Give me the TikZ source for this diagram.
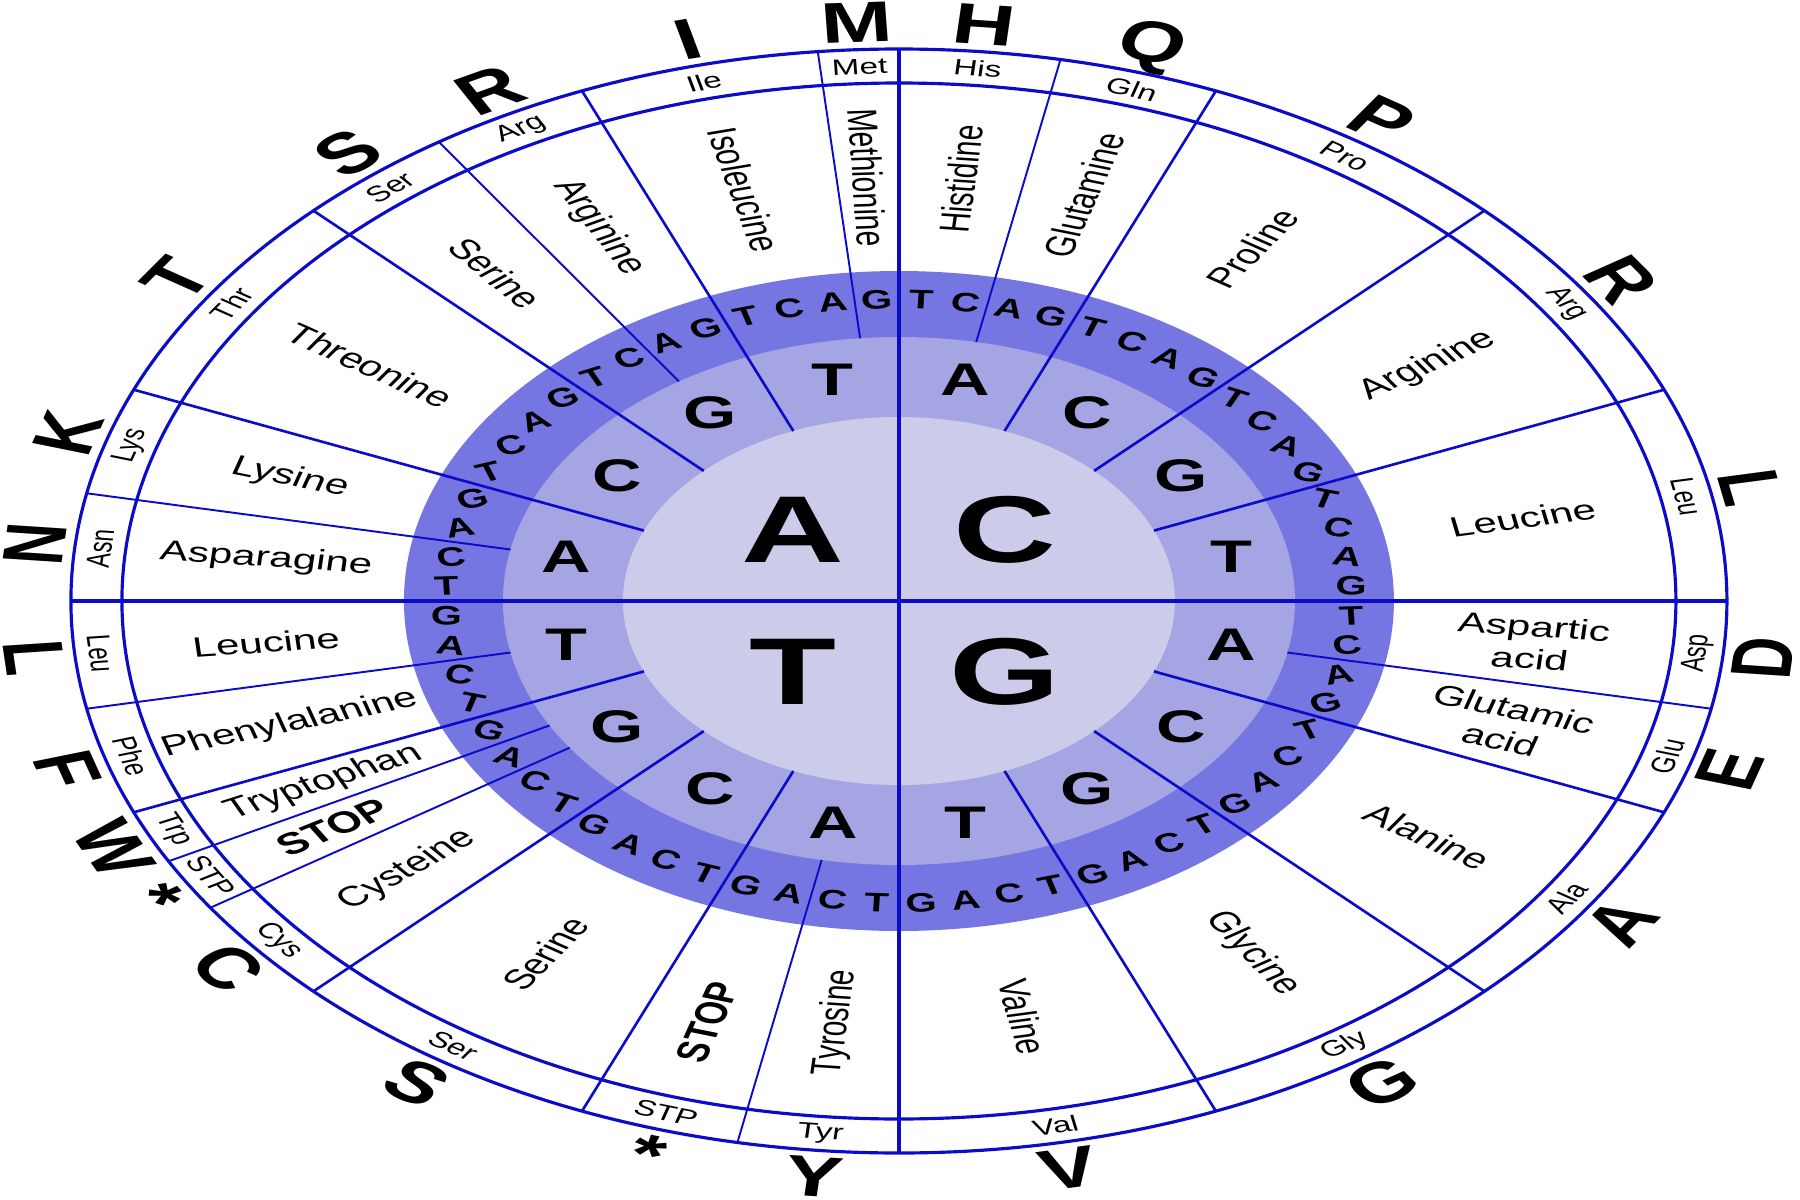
\documentclass[tikz,border=0pt]{standalone}
\usepackage{fontspec}
\setmainfont{Liberation Sans}
\usetikzlibrary{math}

\definecolor{ringdark}{RGB}{118,118,226}
\definecolor{ringmid}{RGB}{165,165,228}
\definecolor{ringlight}{RGB}{204,204,234}
\definecolor{wheelblue}{RGB}{12,12,200}

\begin{document}
\begin{tikzpicture}[xscale=1.5,every node/.append style={transform shape,inner sep=0pt},
    base/.style={font=\fontsize{27}{27}\selectfont\bfseries},
    second/.style={font=\fontsize{13}{13}\selectfont\bfseries},
    third/.style={font=\fontsize{7.6}{8}\selectfont\bfseries},
    amino/.style={font=\fontsize{8}{9.2}\selectfont,align=center},
    abbr/.style={font=\fontsize{6.3}{7}\selectfont},
    code/.style={font=\fontsize{16.3}{17}\selectfont\bfseries}]
  \useasboundingbox (-5.993,-5.99) rectangle (6.007,6.01);

  \fill[ringdark] (0,0) circle (3.30);
  \fill[ringmid] (0,0) circle (2.64);
  \fill[ringlight] (0,0) circle (1.84);

  % sectors: first codon / codons / name radius / name / short / letter
  \foreach \s/\cnt/\rn/\fname/\sname/\lname [count=\i] in {
      0/2/4.24/Histidine/His/H, 2/2/4.24/Glutamine/Gln/Q, 4/4/4.24/Proline/Pro/P,
      8/4/4.24/Arginine/Arg/R, 12/4/4.24/Leucine/Leu/L,
      16/2/4.24/{Aspartic\\acid}/Asp/D, 18/2/4.24/{Glutamic\\acid}/Glu/E,
      20/4/4.24/Alanine/Ala/A, 24/4/4.24/Glycine/Gly/G, 28/4/4.24/Valine/Val/V,
      32/2/4.24/Tyrosine/Tyr/Y, 34/2/4.40/{\fontsize{8.6}{9}\selectfont\textbf{STOP}}/STP/*,
      36/4/4.24/Serine/Ser/S, 40/2/4.24/Cysteine/Cys/C,
      42/1/4.40/{\fontsize{8.6}{9}\selectfont\textbf{STOP}}/STP/*, 43/1/4.24/Tryptophan/Trp/W,
      44/2/4.24/Phenylalanine/Phe/F, 46/2/4.24/Leucine/Leu/L,
      48/2/4.24/Asparagine/Asn/N, 50/2/4.24/Lysine/Lys/K, 52/4/4.24/Threonine/Thr/T,
      56/2/4.24/Serine/Ser/S, 58/2/4.24/Arginine/Arg/R,
      60/3/4.24/Isoleucine/Ile/I, 63/1/4.24/Methionine/Met/M} {
    \tikzmath{
      real \ta, \tm, \rotr, \rott, \rin, \lwid;
      \ta = 90 - 5.625*\s;
      \tm = 90 - 5.625*(\s + \cnt/2);
      \rotr = Mod(\tm + 90, 180) - 90;
      \rott = Mod(\tm, 180) - 90;
      if Mod(\s, 4) == 0 then {\rin = 1.84; \lwid = 0.75;} else {\rin = 2.64; \lwid = 0.55;};
    }
    \draw[wheelblue,line width=\lwid pt] (\ta:\rin) -- (\ta:5.52);
    \node[amino,rotate=\rotr] (aa-\i) at (\tm:\rn) {\fname};
    \node[abbr,rotate=\rott] (ab-\i) at (\tm:5.35) {\sname};
    \node[code,rotate=\rott] (one-\i) at (\tm:5.79) {\lname};
  }

  \draw[wheelblue,line width=1.2pt] (90:5.52) -- (-90:5.52) (0:5.52) -- (180:5.52);
  \draw[wheelblue,line width=0.9pt] (0,0) circle (5.18) (0,0) circle (5.52);

  % first base
  \foreach \b/\th in {C/45, G/-45, T/-135, A/135}
    \node[base] (base-\b) at (\th:1.0) {\b};

  % second base
  \foreach \q in {0,...,3}
    \foreach \b [count=\k from 0] in {A,C,G,T} {
      \tikzmath{ real \th; \th = 90 - 22.5*(4*\q + \k + 0.5); }
      \node[second] (mid-\q-\k) at (\th:2.26) {\b};
    }

  % third base
  \foreach \j in {0,...,15}
    \foreach \b [count=\k from 0] in {T,C,A,G} {
      \tikzmath{
        real \th, \tilt;
        \th = 90 - 5.625*(4*\j + \k + 0.5);
        \tilt = -25*sin(2*\th);
      }
      \node[third,rotate=\tilt] (out-\j-\k) at (\th:3.02) {\b};
    }
\end{tikzpicture}
\end{document}
